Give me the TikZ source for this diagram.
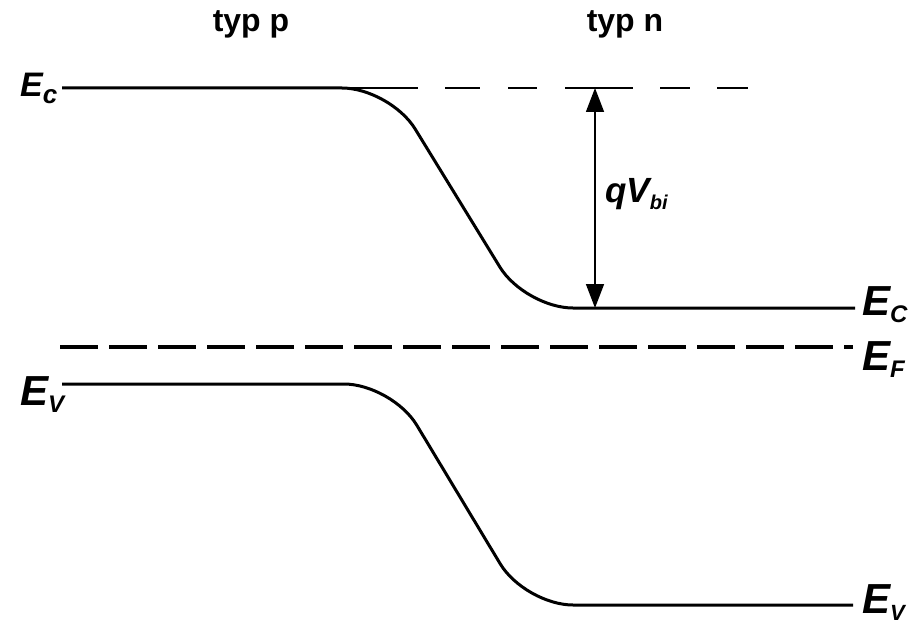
\documentclass[tikz,border=0pt]{standalone}
\usepackage{fontspec}
\setmainfont{Liberation Sans}
\usepackage{tikz}
\usetikzlibrary{arrows.meta}

% lowered index for the level names
\newcommand{\idx}[2][24]{\raisebox{-7pt}{\fontsize{#1}{#1}\selectfont #2}}

\begin{document}
\begin{tikzpicture}[x=1pt, y=-1pt, >={Triangle[length=24pt, width=18pt]},
  band/.style={line width=3pt, rounded corners=48pt},
  lvl/.style={anchor=base west, inner sep=0pt, font=\fontsize{42}{42}\selectfont\bfseries\itshape},
  side/.style={anchor=base, inner sep=0pt, font=\fontsize{32}{32}\selectfont\bfseries}]
\useasboundingbox (0,0) rectangle (909,623);
\node[side] (typp) at (251,32) {typ p};
\node[side] (typn) at (625,32) {typ n};
% level of E_c far from the junction
\draw[line width=1.5pt, dash pattern=on 68pt off 27pt on 35pt off 28pt on 29pt off 28pt on 68pt off 27pt on 30pt off 27pt on 31pt] (350,88) -- (748,88);
% conduction band
\draw[band] (62,88) -- (390,88) -- (525,308) -- (855,308);
% Fermi level
\draw[line width=4pt, dash pattern=on 38pt off 11pt] (60,347) -- (853,347);
% valence band
\draw[band] (62,384) -- (392,384) -- (525,605) -- (853,605);
% built-in potential
\coordinate (vtop) at (595,88);
\coordinate (vbot) at (595,308);
\draw[<->, line width=1.5pt] (vtop) -- (vbot);
\node[lvl, font=\fontsize{35}{35}\selectfont\bfseries\itshape] (qv) at (605,202) {qV\idx[20]{bi}};
\node[lvl, font=\fontsize{34}{34}\selectfont\bfseries\itshape] (ecl) at (20,97) {E\idx[26]{c}};
\node[lvl] (evl) at (20,405) {E\idx{V}};
\node[lvl] (ecr) at (862,315) {E\idx{C}};
\node[lvl] (efr) at (862,370) {E\idx{F}};
\node[lvl] (evr) at (862,613) {E\idx[22]{V}};
\end{tikzpicture}
\end{document}
